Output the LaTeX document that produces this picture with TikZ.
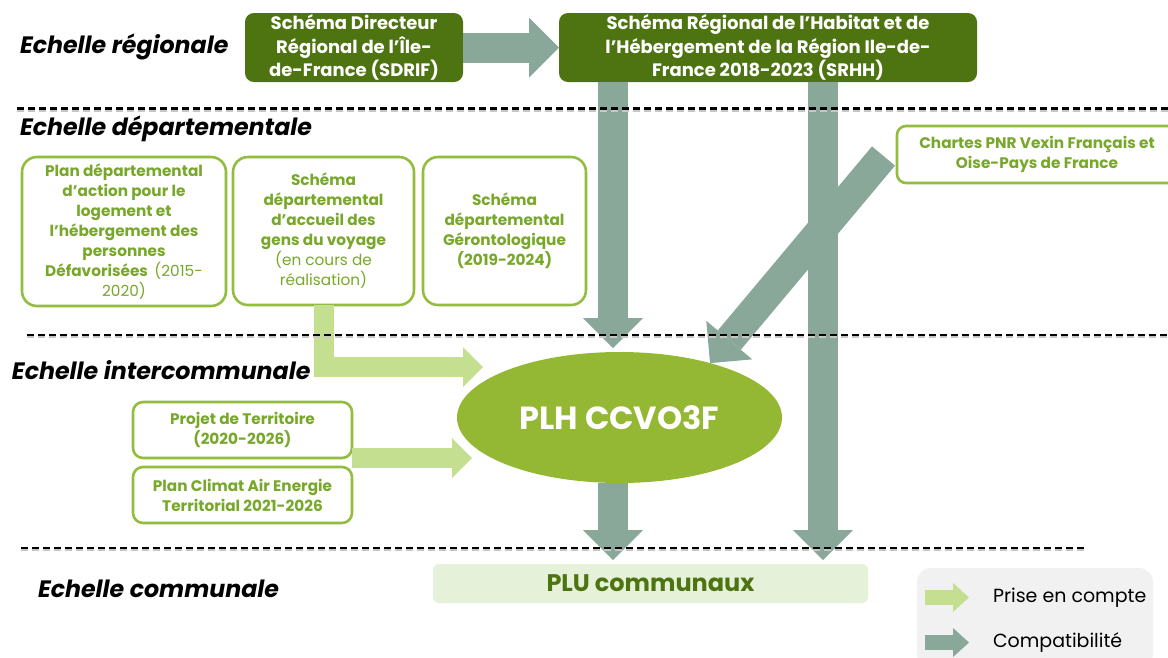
\documentclass[tikz,border=0pt]{standalone}
\usepackage{fontspec}
\setmainfont{Poppins}
\usetikzlibrary{arrows.meta,shapes.geometric}
\definecolor{regfill}{HTML}{4D7411}
\definecolor{depline}{HTML}{93BD3F}
\definecolor{deptext}{HTML}{78A82A}
\definecolor{compatc}{HTML}{8AA899}
\definecolor{prisec}{HTML}{C3DF8F}
\definecolor{plhfill}{HTML}{94B833}
\definecolor{plufill}{HTML}{E6F1DA}
\definecolor{legfill}{HTML}{F1F1F1}

\begin{document}
\begin{tikzpicture}[x=1pt,y=-1pt,every node/.style={inner sep=0pt,outer sep=0pt},
  scalelabel/.style={anchor=west,font=\fontsize{23.7}{28}\selectfont\bfseries\itshape},
  regbox/.style={fill=regfill,rounded corners=9pt,text=white,align=center,font=\fontsize{18}{23.3}\selectfont\bfseries},
  depbox/.style={draw=depline,line width=2.6pt,rounded corners=15pt,fill=white,text=deptext,align=center,font=\fontsize{15.3}{20}\selectfont\bfseries},
  compat/.style={draw=compatc,line width=30pt,-{Triangle[length=30pt,width=60pt,line width=0pt]}},
  prise/.style={draw=prisec,line width=20pt,line join=miter,-{Triangle[length=20pt,width=40pt,line width=0pt]}},
  dashline/.style={dash pattern=on 7pt off 4pt,line width=2.2pt},
  dashshadow/.style={dashline,draw=black!22}]
\useasboundingbox (0,0) rectangle (1168,657);

% echelles
\node[scalelabel](lreg) at (20,47){Echelle régionale};
\node[scalelabel](ldep) at (20,129){Echelle départementale};
\node[scalelabel](linter) at (12,370){Echelle intercommunale};
\node[scalelabel](lcom) at (38,589){Echelle communale};

% documents regionaux
\node[regbox,minimum width=218pt,minimum height=69pt](sdrif) at (354,47.5){Schéma Directeur\\Régional de l’Île-\\de-France (SDRIF)};
\node[regbox,minimum width=418pt,minimum height=69pt](srhh) at (768,47.5){Schéma Régional de l’Habitat et de\\l’Hébergement de la Région Ile-de-\\France 2018-2023 (SRHH)};

% documents departementaux
\node[depbox,minimum width=204pt,minimum height=149pt](pdalhpd) at (124,231.5){Plan départemental\\d’action pour le\\logement et\\l’hébergement des\\personnes\\Défavorisées\ \ {\mdseries(2015-}\\{\mdseries 2020)}};
\node[depbox,minimum width=181pt,minimum height=148pt](sdagv) at (323.5,231){Schéma\\départemental\\d’accueil des\\gens du voyage\\{\mdseries(en cours de}\\{\mdseries réalisation)}};
\node[depbox,minimum width=163pt,minimum height=148pt](sdg) at (504.5,231){Schéma\\départemental\\Gérontologique\\(2019-2024)};
\node[depbox,minimum width=280pt,minimum height=57pt,rounded corners=9pt](pnr) at (1037,154.5){Chartes PNR Vexin Français et\\Oise-Pays de France};

% intercommunal
\node[depbox,minimum width=219pt,minimum height=56pt,rounded corners=10pt](pdt) at (242.5,430){Projet de Territoire\\(2020-2026)};
\node[depbox,minimum width=219pt,minimum height=56pt,rounded corners=10pt](pcaet) at (242.5,495){Plan Climat Air Energie\\Territorial 2021-2026};
\node[ellipse,fill=plhfill,minimum width=325pt,minimum height=131pt,text=white,font=\fontsize{32}{36}\selectfont\bfseries](plh) at (619.5,417.5){PLH CCVO3F};

% communal
\node[fill=plufill,rounded corners=6pt,minimum width=435pt,minimum height=39pt,text=regfill,font=\fontsize{24}{28}\selectfont\bfseries](plu) at (650.5,583.5){PLU communaux};

% fleches
\coordinate(a1) at (613,0);\coordinate(a2) at (823,0);
\coordinate(t1) at (483,367);\coordinate(t2) at (472,458);
\draw[compat](sdrif.east)--(srhh.west);
\draw[compat,shorten >=4pt](srhh.south -| a1)--(plh.north -| a1);
\draw[compat,shorten >=4pt](srhh.south -| a2)--(plu.north -| a2);
\draw[compat,shorten >=4pt](plh.south -| a1)--(plu.north -| a1);
\draw[compat]([xshift=-13.5pt,yshift=-1.5pt]pnr.west)--(plh.31);
\draw[prise](sdagv.south)|-(t1);
\draw[prise](pdt.south east)--(t2);

% separations
\draw[dashshadow](17,110.5)--(1168,110.5);\draw[dashline](17,108.5)--(1168,108.5);
\draw[dashshadow](27,337)--(1168,337);\draw[dashline](27,335)--(1168,335);
\draw[dashshadow](21,550)--(1087,550);\draw[dashline](21,548)--(1087,548);

% legende
\node[fill=legfill,rounded corners=14pt,minimum width=236pt,minimum height=100pt](leg) at (1035,618){};
\node[anchor=west,font=\fontsize{19}{22}\selectfont](lprise) at (993,597.5){Prise en compte};
\node[anchor=west,font=\fontsize{19}{22}\selectfont](lcompat) at (993,642.5){Compatibilité};
\coordinate(kp) at (925,597.5);\coordinate(kc) at (925,642.5);
\draw[draw=prisec,line width=15pt,-{Triangle[length=16pt,width=29pt,line width=0pt]}](kp)--([xshift=-24pt]lprise.west);
\draw[draw=compatc,line width=15pt,-{Triangle[length=16pt,width=29pt,line width=0pt]}](kc)--([xshift=-24pt]lcompat.west);
\end{tikzpicture}
\end{document}
